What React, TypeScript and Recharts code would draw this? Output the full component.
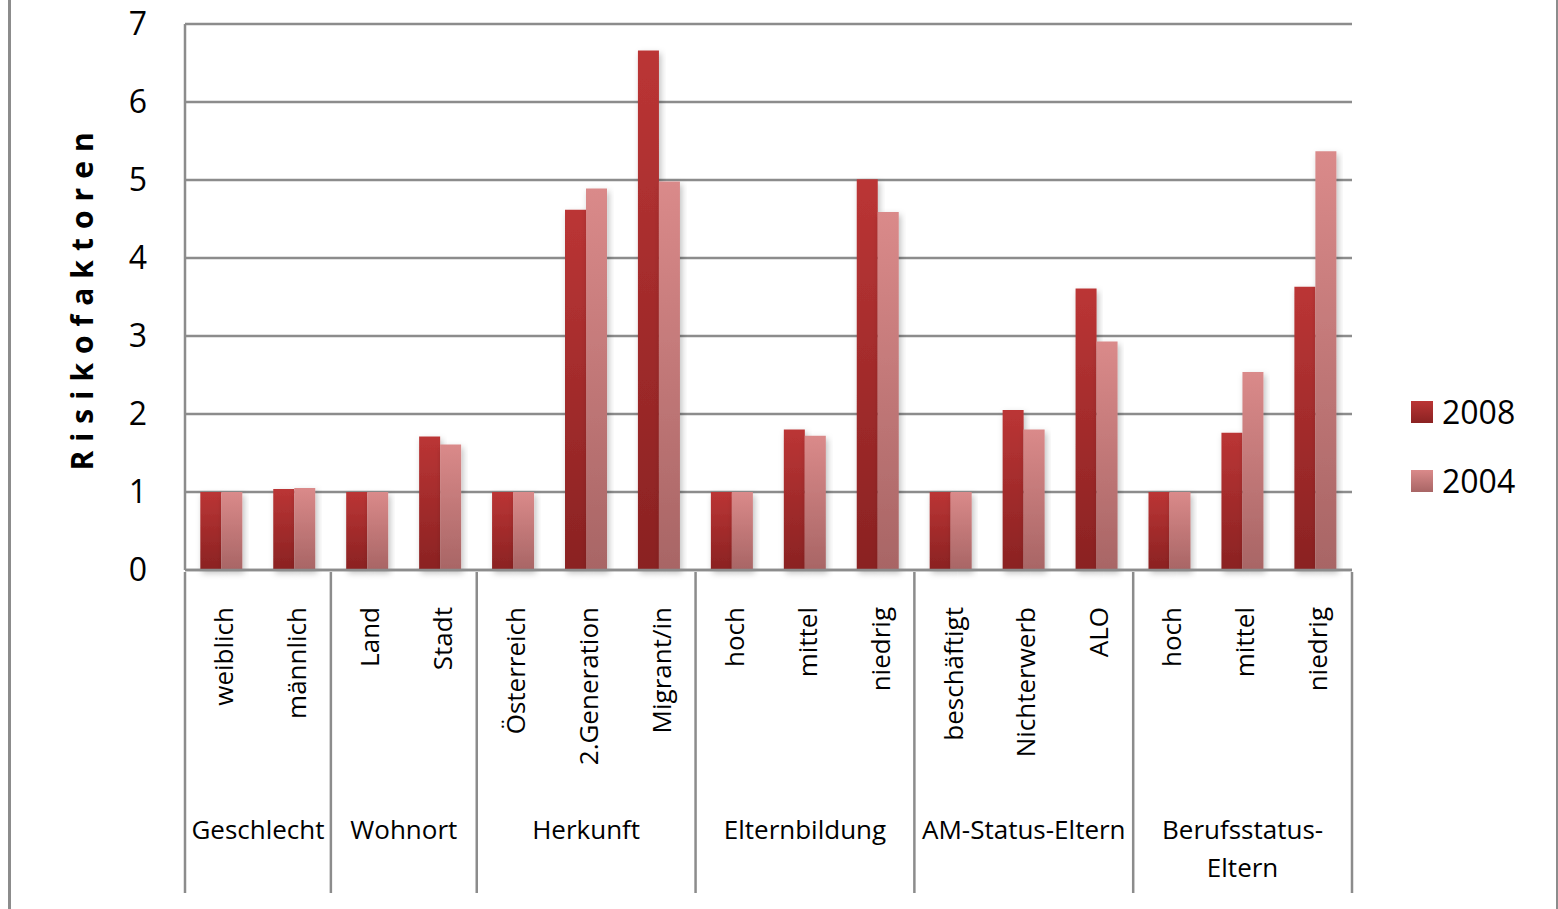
import { BarChart, Bar, XAxis, YAxis, CartesianGrid } from "recharts";

// categories, grouped as in the original chart
const labels = [
  "weiblich", "männlich",
  "Land", "Stadt",
  "Österreich", "2.Generation", "Migrant/in",
  "hoch", "mittel", "niedrig",
  "beschäftigt", "Nichterwerb", "ALO",
  "hoch", "mittel", "niedrig",
];
const groupNames = ["Geschlecht", "Wohnort", "Herkunft", "Elternbildung", "AM-Status-Eltern", "Berufsstatus-\nEltern"];
const groupSizes = [2, 2, 3, 3, 3, 3];

const values2008 = [1, 1.04, 1, 1.71, 1, 4.62, 6.66, 1, 1.8, 5.01, 1, 2.05, 3.61, 1, 1.76, 3.63];
const values2004 = [1, 1.05, 1, 1.61, 1, 4.89, 4.98, 1, 1.72, 4.59, 1, 1.8, 2.93, 1, 2.54, 5.37];
const yTicks = [0, 1, 2, 3, 4, 5, 6, 7];

const W = 1558;
const H = 909;
const AXIS_W = 185;
const RIGHT = 206;
const TOP = 24;
const XAXIS_H = 339;
const STEP = (W - AXIS_W - RIGHT) / labels.length;
const GRID = "#8c8c8c";
const FONT = "'Open Sans', 'Noto Sans', sans-serif";

const data = labels.map((label, i) => ({ id: i, label, v2008: values2008[i], v2004: values2004[i] }));

// start index of each group
const groupStarts: number[] = [];
groupSizes.reduce((acc, n) => { groupStarts.push(acc); return acc + n; }, 0);

function CategoryTick(props: any) {
  const { x, y, payload } = props;
  const i = Number(payload.value);
  const g = groupStarts.indexOf(i);
  const isLast = i === labels.length - 1;
  const gx = g >= 0 ? x + ((groupSizes[g] - 1) / 2) * STEP : 0;
  return (
    <g>
      <text
        transform={`translate(${x},${y + 35}) rotate(-90)`}
        textAnchor="end"
        dy="0.45em"
        fontSize={26}
        fontFamily={FONT}
        fill="#000"
      >
        {labels[i]}
      </text>
      {g >= 0 && (
        <>
          <line x1={x - STEP / 2} x2={x - STEP / 2} y1={y} y2={893} stroke={GRID} strokeWidth={2.5} />
          <text x={gx} y={y + 267} textAnchor="middle" fontSize={26} fontFamily={FONT} fill="#000">
            {groupNames[g].split("\n").map((line, k) => (
              <tspan key={k} x={gx} dy={k === 0 ? 0 : 38}>
                {line}
              </tspan>
            ))}
          </text>
        </>
      )}
      {isLast && <line x1={x + STEP / 2} x2={x + STEP / 2} y1={y} y2={893} stroke={GRID} strokeWidth={2.5} />}
    </g>
  );
}

function AxisTitle() {
  return (
    <text
      transform="translate(93,297) rotate(-90)"
      textAnchor="middle"
      fontSize={30}
      fontWeight="bold"
      letterSpacing={9}
      fontFamily={FONT}
      fill="#000"
    >
      Risikofaktoren
    </text>
  );
}

const legendItems = [
  { name: "2008", from: "#bb3535", to: "#8a2222" },
  { name: "2004", from: "#da8a8a", to: "#a86565" },
];

export default function App() {
  return (
    <div style={{ position: "absolute", left: 0, top: 0, width: W, height: H, background: "#fff" }}>
      <BarChart
        width={W}
        height={H}
        data={data}
        margin={{ top: TOP, right: RIGHT, left: 0, bottom: 0 }}
        barCategoryGap="21%"
        barGap={0}
      >
        <defs>
          <linearGradient id="g2008" x1="0" y1="0" x2="0" y2="1">
            <stop offset="0%" stopColor="#bb3535" />
            <stop offset="100%" stopColor="#8a2222" />
          </linearGradient>
          <linearGradient id="g2004" x1="0" y1="0" x2="0" y2="1">
            <stop offset="0%" stopColor="#da8a8a" />
            <stop offset="100%" stopColor="#a86565" />
          </linearGradient>
          <filter id="shadow" x="-30%" y="-10%" width="160%" height="130%">
            <feDropShadow dx="2" dy="3" stdDeviation="3" floodColor="#000" floodOpacity="0.25" />
          </filter>
        </defs>
        <CartesianGrid vertical={false} stroke={GRID} strokeWidth={2.5} />
        <XAxis
          dataKey="id"
          height={XAXIS_H}
          interval={0}
          tickLine={false}
          tickSize={0}
          axisLine={{ stroke: GRID, strokeWidth: 2.5 }}
          tick={<CategoryTick />}
        />
        <YAxis
          width={AXIS_W}
          domain={[0, 7]}
          ticks={yTicks}
          interval={0}
          tickLine={false}
          tickSize={0}
          tickMargin={38}
          axisLine={{ stroke: GRID, strokeWidth: 2.5 }}
          tick={{ fontSize: 32, fill: "#000", fontFamily: FONT }}
          label={<AxisTitle />}
        />
        <Bar dataKey="v2008" name="2008" fill="url(#g2008)" filter="url(#shadow)" isAnimationActive={false} />
        <Bar dataKey="v2004" name="2004" fill="url(#g2004)" filter="url(#shadow)" isAnimationActive={false} />
      </BarChart>

      {/* legend */}
      <div style={{ position: "absolute", left: 1411, top: 392, fontFamily: FONT }}>
        {legendItems.map((it) => (
          <div key={it.name} style={{ display: "flex", alignItems: "center", height: 40, marginBottom: 29 }}>
            <div
              style={{
                width: 22,
                height: 22,
                background: `linear-gradient(${it.from}, ${it.to})`,
                marginRight: 9,
              }}
            />
            <span style={{ fontSize: 32, color: "#000", lineHeight: "40px" }}>{it.name}</span>
          </div>
        ))}
      </div>

      {/* outer frame of the original picture */}
      <div
        style={{
          position: "absolute",
          left: 8,
          top: 0,
          width: 1545,
          height: H,
          borderLeft: `3px solid ${GRID}`,
          borderRight: `3px solid ${GRID}`,
          pointerEvents: "none",
        }}
      />
    </div>
  );
}
